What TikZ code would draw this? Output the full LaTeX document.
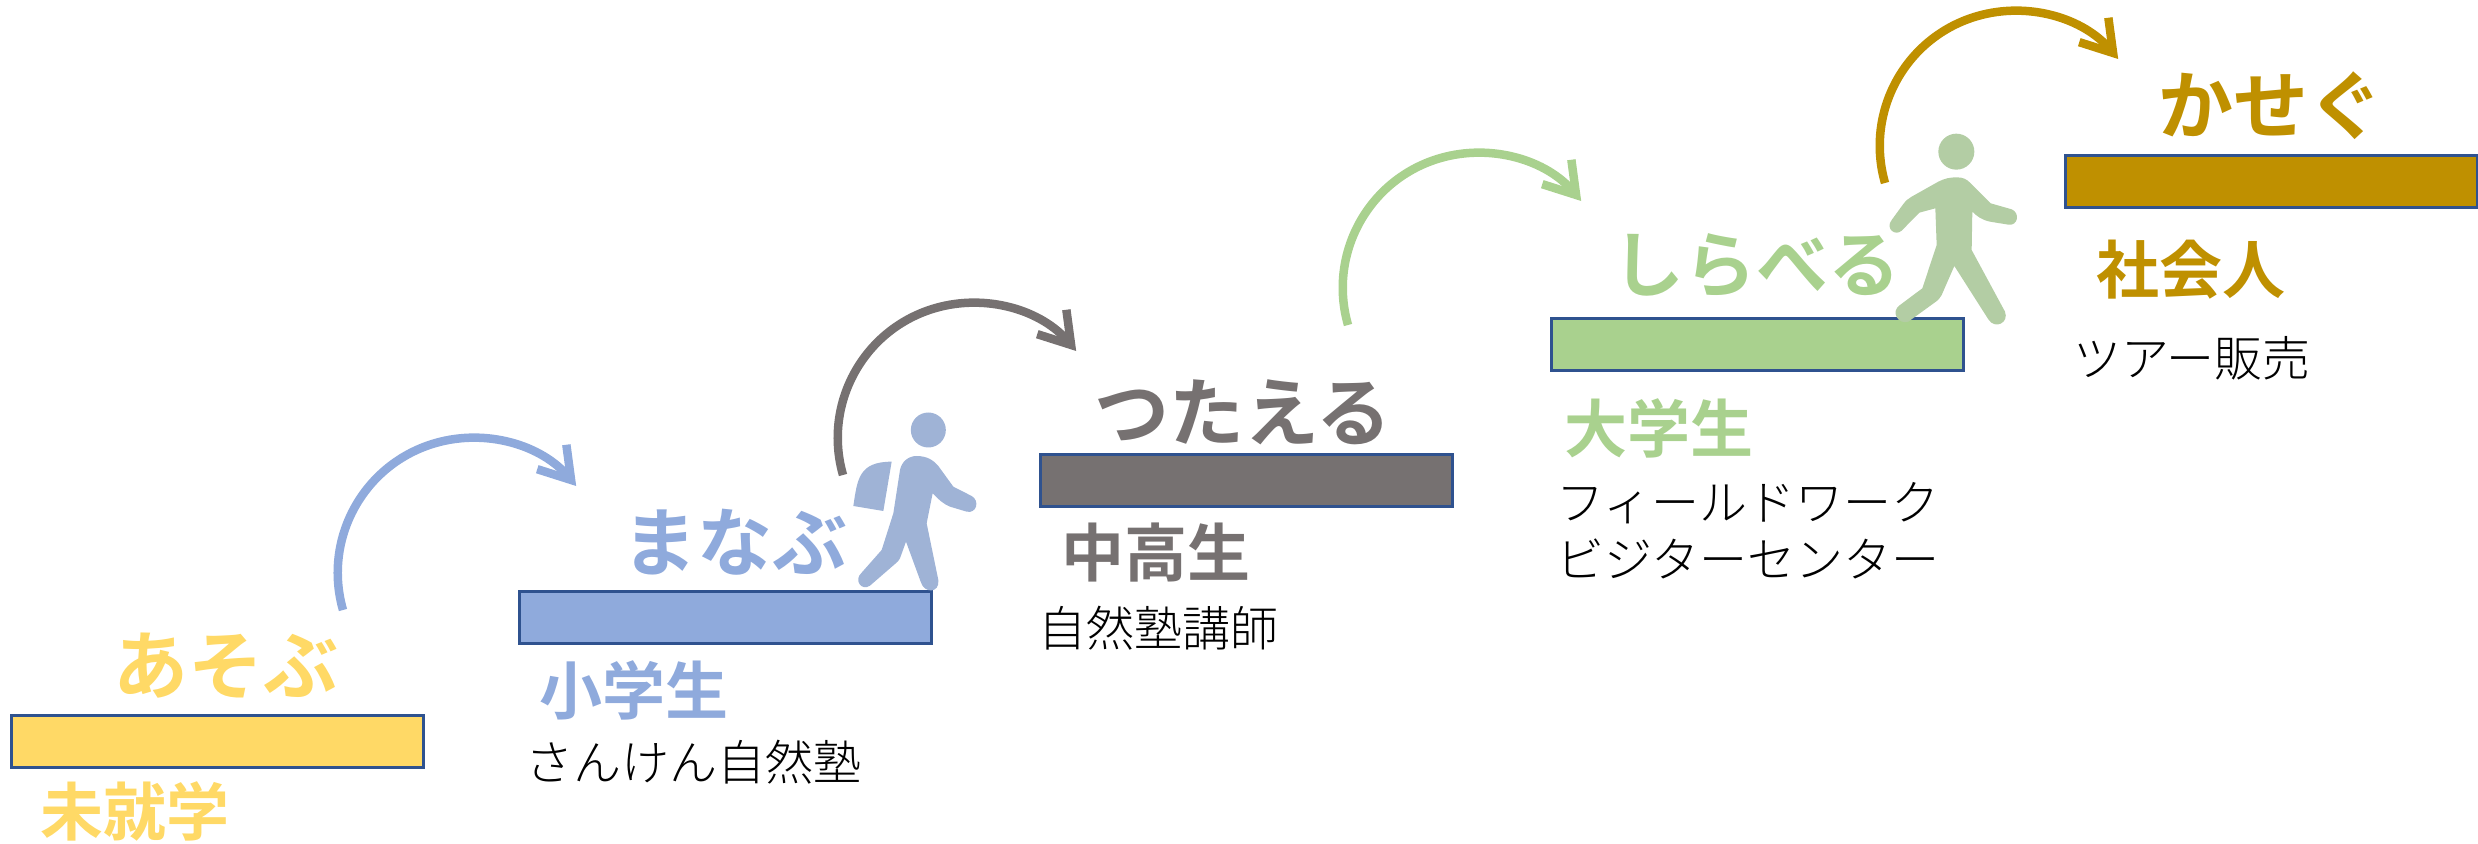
\documentclass[tikz,border=0pt]{standalone}
\usepackage{fontspec}
\usetikzlibrary{arrows.meta}
\setmainfont{Noto Sans CJK JP Light}[BoldFont={Noto Sans CJK JP Bold}]
\definecolor{cy}{HTML}{FFD966}
\definecolor{cb}{HTML}{8FAADC}
\definecolor{cg}{HTML}{767171}
\definecolor{cn}{HTML}{A9D18E}
\definecolor{co}{HTML}{BF9000}
\definecolor{edge}{HTML}{2F528F}
\definecolor{stu}{HTML}{9FB3D6}
\definecolor{wal}{HTML}{B3CDA4}
\tikzset{
 stepbar/.style={draw=edge,line width=3pt,minimum width=412pt,minimum height=52pt,inner sep=0pt},
 verb/.style={font=\fontsize{75}{80}\selectfont\bfseries,inner sep=0pt},
 stage/.style={font=\fontsize{63}{66}\selectfont\bfseries,inner sep=0pt},
 job/.style={font=\fontsize{48}{57}\selectfont,inner sep=0pt,text=black,align=left},
 hop/.style={line width=8.5pt,-{Straight Barb[length=30pt,width=38pt,line width=8.5pt]}},
}
\begin{document}
\begin{tikzpicture}[x=1pt,y=-1pt]
\useasboundingbox (0,0) rectangle (2478,843);
% bars
\node[stepbar,fill=cy] (b1) at (217.5,741) {};
\node[stepbar,fill=cb] (b2) at (725.5,617.5) {};
\node[stepbar,fill=cg] (b3) at (1246.5,480.5) {};
\node[stepbar,fill=cn] (b4) at (1757.5,344.5) {};
\node[stepbar,fill=co] (b5) at (2271,181.5) {};
% verbs
\node[verb,text=cy] (v1) at (226,666) {あそぶ};
\node[verb,text=cb] (v2) at (735,542) {まなぶ};
\node[verb,text=cg] (v3) at (1243,412) {つたえる};
\node[verb,text=cn,font=\fontsize{72}{76}\selectfont\bfseries] (v4) at (1756,266) {しらべる};
\node[verb,text=co] (v5) at (2271,106) {かせぐ};
% stages
\node[stage,text=cy] (s1) at (135,811) {未就学};
\node[stage,text=cb] (s2) at (634,690) {小学生};
\node[stage,text=cg] (s3) at (1156,553) {中高生};
\node[stage,text=cn] (s4) at (1659,428) {大学生};
\node[stage,text=co] (s5) at (2191,270) {社会人};
% jobs
\node[job,anchor=west] (j2) at (525,762) {さんけん自然塾};
\node[job,anchor=west] (j3) at (1038,628) {自然塾講師};
\node[job,anchor=north west] (j4) at (1556,482) {フィールドワーク\\ビジターセンター};
\node[job,anchor=west] (j5) at (2073,358) {ツアー販売};
% arcs
\coordinate (a1) at (343,610);
\coordinate (a2) at (843,475);
\coordinate (a3) at (1348,325);
\coordinate (a4) at (1885,183);
\draw[hop,cb] (a1) arc[start angle=196,end angle=40,radius=135pt];
\draw[hop,cg] (a2) arc[start angle=196,end angle=40,radius=135pt];
\draw[hop,cn] (a3) arc[start angle=196,end angle=40,radius=135pt];
\draw[hop,co] (a4) arc[start angle=196,end angle=40,radius=135pt];
% student
\begin{scope}[shift={(800,380)},x=.3333pt,y=-.3333pt]
\fill[stu] (385,150) circle[radius=17.5pt];
\fill[stu] (160,378) .. controls (172,300) and (175,245) .. (275,245) -- (250,393) -- cycle;
\fill[stu] (350,228) .. controls (380,228) and (400,240) .. (415,258) -- (460,320) -- (515,348)
 .. controls (540,362) and (530,402) .. (500,395) -- (450,380) .. controls (430,372) and (415,358) .. (398,340) -- (380,430) -- (415,600)
 .. controls (420,640) and (372,642) .. (362,605) -- (318,485) -- (300,535) .. controls (297,542) and (292,546) .. (285,552) -- (210,617)
 .. controls (185,635) and (160,600) .. (185,578) -- (245,510) -- (280,400) -- (300,270)
 .. controls (305,245) and (325,228) .. (350,228) -- cycle;
\end{scope}
% walker
\begin{scope}[shift={(1860,110)},x=.3333pt,y=-.3333pt]
\fill[wal] (289,125) circle[radius=18pt];
\fill[wal] (290,202) .. controls (310,202) and (320,208) .. (330,218) -- (392,280) -- (455,298)
 .. controls (480,308) and (475,348) .. (445,344) -- (390,335) .. controls (365,330) and (350,318) .. (337,305) -- (335,420) -- (435,605)
 .. controls (448,638) and (405,660) .. (385,628) -- (283,468) -- (245,555) .. controls (240,565) and (235,570) .. (225,577) -- (145,635)
 .. controls (115,645) and (90,605) .. (120,585) -- (187,535) -- (230,405) -- (226,295) -- (178,308) -- (125,362)
 .. controls (105,380) and (75,355) .. (95,330) -- (130,282) .. controls (138,272) and (145,265) .. (155,260) -- (235,215) .. controls (255,205) and (270,202) .. (290,202) -- cycle;
\end{scope}
\end{tikzpicture}
\end{document}
